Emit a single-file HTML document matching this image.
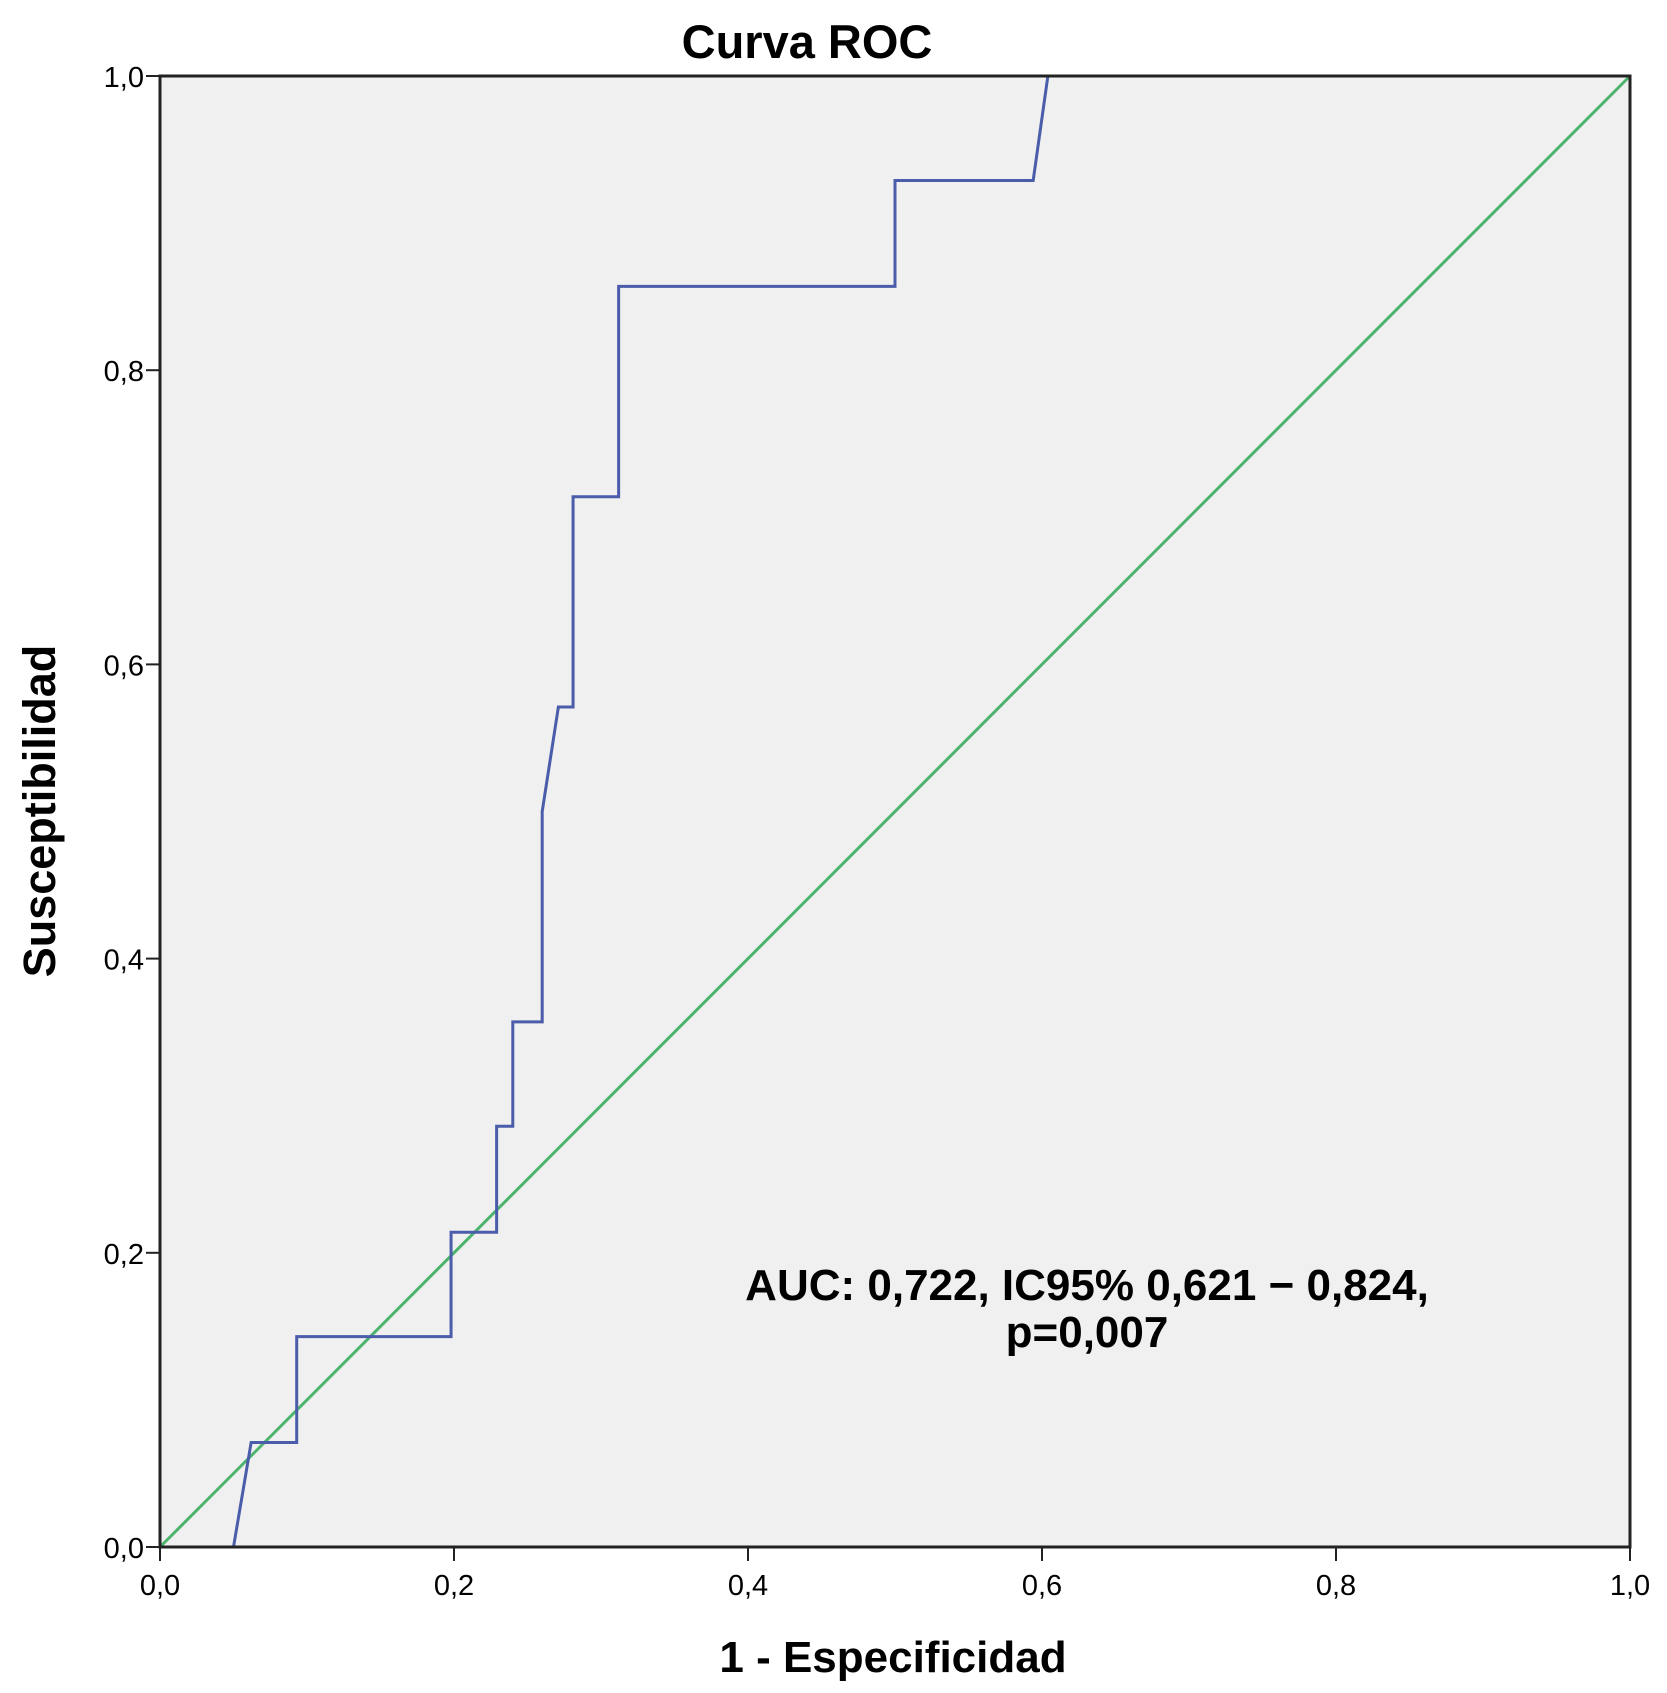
<!DOCTYPE html>
<html><head><meta charset="utf-8"><style>
body{margin:0;background:#fff}
svg{display:block}
text{font-family:"Liberation Sans",Arial,sans-serif}
</style></head><body>
<svg id="chart" width="1667" height="1693" viewBox="0 0 1667 1693">
<text x="807" y="58" text-anchor="middle" font-size="47" font-weight="bold">Curva ROC</text>
<rect x="160" y="76" width="1470" height="1471" fill="#f0f0f0"/>
<g id="ticks"></g>
<line x1="160" y1="1547" x2="1630" y2="76" stroke="#4cb46e" stroke-width="3"/>
<path id="roc" fill="none" stroke="#4a5caa" stroke-width="3"/>
<rect x="160" y="76" width="1470" height="1471" fill="none" stroke="#222" stroke-width="3"/>
<text x="893" y="1672" text-anchor="middle" font-size="44" font-weight="bold">1 - Especificidad</text>
<text transform="translate(55,811) rotate(-90)" text-anchor="middle" font-size="45" font-weight="bold">Susceptibilidad</text>
<text x="1087" y="1300" text-anchor="middle" font-size="44" font-weight="bold">AUC: 0,722, IC95% 0,621 − 0,824,</text>
<text x="1087" y="1347" text-anchor="middle" font-size="44" font-weight="bold">p=0,007</text>
</svg>
<script>
const rocX=[0.05,0.062,0.093,0.093,0.198,0.198,0.229,0.229,0.24,0.24,0.26,0.26,0.271,0.281,0.281,0.312,0.312,0.5,0.5,0.594,0.604];
const rocY=[0,0.071,0.071,0.143,0.143,0.214,0.214,0.286,0.286,0.357,0.357,0.5,0.571,0.571,0.714,0.714,0.857,0.857,0.929,0.929,1];
const tickVals=[0,0.2,0.4,0.6,0.8,1.0];
const tickLabels=["0,0","0,2","0,4","0,6","0,8","1,0"];
const X0=160,X1=1630,Y0=1547,Y1=76;
const sx=v=>X0+v*(X1-X0), sy=v=>Y0-v*(Y0-Y1);
const NS="http://www.w3.org/2000/svg";
document.getElementById('roc').setAttribute('d',rocX.map((x,i)=>(i?'L':'M')+sx(x)+','+sy(rocY[i])).join(''));
const g=document.getElementById('ticks');
tickVals.forEach((v,i)=>{
  let l=document.createElementNS(NS,'line');
  
  
  l.setAttribute('x1',sx(v));l.setAttribute('x2',sx(v));l.setAttribute('y1',Y0);l.setAttribute('y2',Y0+14);
  l.setAttribute('stroke','#222');l.setAttribute('stroke-width','2');g.appendChild(l);
  let t=document.createElementNS(NS,'text');
  
  
  t.setAttribute('x',sx(v));t.setAttribute('y',Y0+48);t.setAttribute('text-anchor','middle');t.setAttribute('font-size','29');
  t.textContent=tickLabels[i];g.appendChild(t);
  let l2=document.createElementNS(NS,'line');
  
  
  l2.setAttribute('x1',X0-14);l2.setAttribute('x2',X0);l2.setAttribute('y1',sy(v));l2.setAttribute('y2',sy(v));
  l2.setAttribute('stroke','#222');l2.setAttribute('stroke-width','2');g.appendChild(l2);
  let t2=document.createElementNS(NS,'text');
  
  
  t2.setAttribute('x',X0-16);t2.setAttribute('y',sy(v)+11);t2.setAttribute('text-anchor','end');t2.setAttribute('font-size','29');
  t2.textContent=tickLabels[i];g.appendChild(t2);
});
</script>
</body></html>
